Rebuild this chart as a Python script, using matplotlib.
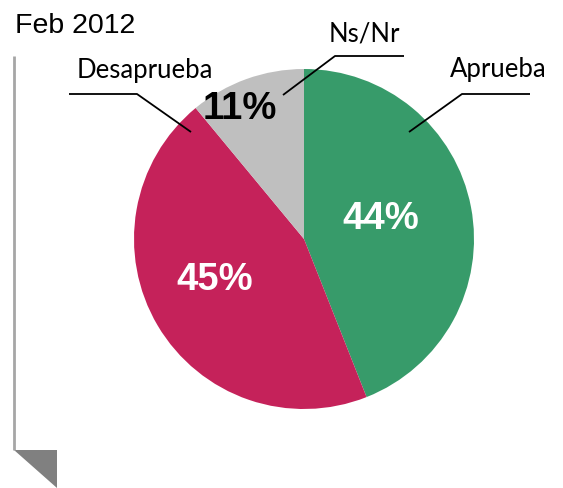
import matplotlib
matplotlib.use("Agg")
import matplotlib.pyplot as plt
from matplotlib.patches import Polygon

# data
labels = ["Aprueba", "Desaprueba", "Ns/Nr"]
values = [44, 45, 11]
pct_text = ["44%", "45%", "11%"]
colors = ["#379B6A", "#C5225A", "#BFBFBF"]
pct_colors = ["white", "white", "black"]
title = "Feb 2012"

W, H = 563, 489


def Y(py):
    # pixel row -> data y
    return H - py


fig = plt.figure(figsize=(W / 100, H / 100), dpi=100)
ax = fig.add_axes([0, 0, 1, 1])

ax.pie(values, colors=colors, startangle=90, counterclock=False,
       center=(304, Y(240)), radius=170,
       wedgeprops=dict(linewidth=0))
ax.set_xlim(0, W)
ax.set_ylim(0, H)
ax.set_aspect("equal")
ax.axis("off")

# percentages inside the wedges
pct_pos = [(381, 229), (215, 290), (240, 119)]
for t, c, (px, py) in zip(pct_text, pct_colors, pct_pos):
    ax.text(px, Y(py), t, color=c, fontsize=27.5, fontweight="bold",
            family="Liberation Sans", ha="center", va="baseline")

# category labels with leader lines
lab_pos = [(498, 77), (145, 78), (364, 42)]
leaders = [
    [(530, 95), (462, 95), (409, 133)],
    [(69, 95), (137, 95), (191, 133)],
    [(404, 57), (335, 57), (283, 96)],
]
for t, (px, py), pts in zip(labels, lab_pos, leaders):
    ax.text(px, Y(py), t, fontsize=18.5, family=["Lato", "DejaVu Sans"],
            ha="center", va="baseline", color="black")
    ax.plot([p[0] for p in pts], [Y(p[1]) for p in pts], color="black", lw=1.3,
            solid_capstyle="butt")

# title
ax.text(15, Y(33), title, fontsize=20.5, family="Liberation Sans",
        ha="left", va="baseline", color="black")

# left bracket line and corner triangle
ax.plot([14, 14], [Y(57), Y(451)], color="#A6A6A6", lw=2, solid_capstyle="butt")
ax.add_patch(Polygon([(14, Y(451)), (57, Y(451)), (57, Y(489))], closed=True,
                     facecolor="#808080", edgecolor="none"))

fig.savefig("out.png", dpi=100)
